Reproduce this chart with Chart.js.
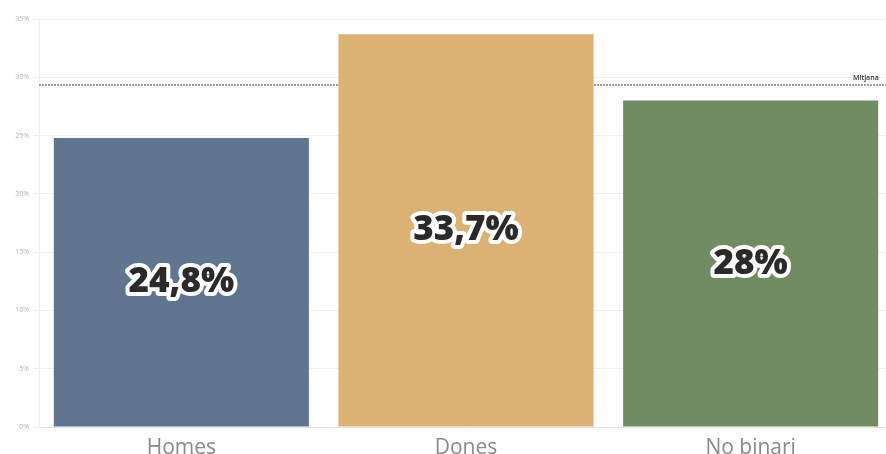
<!DOCTYPE html>
<html><head><meta charset="utf-8">
<script src="https://cdn.jsdelivr.net/npm/chart.js@4"></script>
<style>html,body{margin:0;padding:0;background:#fff;overflow:hidden;}#wrap{width:886px;height:454px;overflow:hidden;}</style>
</head><body><div id="wrap"><canvas id="c" width="893" height="454"></canvas></div>
<script>
const categories = ["Homes", "Dones", "No binari"];
const values = [24.8, 33.7, 28.0];
const valueLabels = ["24,8%", "33,7%", "28%"];
const barColors = ["#5f7590", "#dbb274", "#718c62"];
const meanValue = 29.3;
const meanLabel = "Mitjana";
const yTicks = [0, 5, 10, 15, 20, 25, 30, 35];

const overlay = {
  id: 'overlay',
  beforeDatasetsDraw(chart) {
    const ctx = chart.ctx;
    const y = chart.scales.y;
    const area = chart.chartArea;
    const my = y.getPixelForValue(meanValue);
    ctx.save();
    ctx.strokeStyle = '#808080';
    ctx.lineWidth = 1.5;
    ctx.setLineDash([2, 1]);
    ctx.beginPath();
    ctx.moveTo(area.left, Math.round(my));
    ctx.lineTo(886, Math.round(my));
    ctx.stroke();
    ctx.restore();
  },
  afterDatasetsDraw(chart) {
    const ctx = chart.ctx;
    const y = chart.scales.y;
    const meta = chart.getDatasetMeta(0);
    const my = y.getPixelForValue(meanValue);
    ctx.save();
    ctx.fillStyle = '#333';
    ctx.font = '600 7px "Open Sans"';
    ctx.textAlign = 'left';
    ctx.textBaseline = 'bottom';
    ctx.fillText(meanLabel, 853, my - 4);
    ctx.font = '800 35px "Open Sans"';
    ctx.textAlign = 'center';
    ctx.textBaseline = 'middle';
    ctx.lineJoin = 'round';
    meta.data.forEach((bar, i) => {
      const cy = (bar.y + bar.base) / 2;
      ctx.strokeStyle = '#ffffff';
      ctx.lineWidth = 8;
      ctx.strokeText(valueLabels[i], bar.x, cy);
      ctx.fillStyle = '#2a2a2a';
      ctx.fillText(valueLabels[i], bar.x, cy);
    });
    ctx.restore();
  }
};

new Chart(document.getElementById('c'), {
  type: 'bar',
  data: {
    labels: categories,
    datasets: [{ data: values, backgroundColor: barColors, borderWidth: 0,
      categoryPercentage: 0.896, barPercentage: 1.0 }]
  },
  options: {
    responsive: false,
    animation: false,
    layout: { padding: { top: 19, right: 0, left: 0, bottom: 0 } },
    plugins: { legend: { display: false }, tooltip: { enabled: false } },
    scales: {
      x: {
        grid: { display: false },
        border: { display: true, color: '#e6e6e6' },
        ticks: { color: '#8a8a8a', font: { family: 'Open Sans', size: 21 }, padding: 0 },
        afterFit(s) { s.height = 27; }
      },
      y: {
        min: 0, max: 35,
        afterBuildTicks(s) { s.ticks = yTicks.map(v => ({ value: v })); },
        grid: { color: '#f1f1f1', drawTicks: true, tickLength: 6, tickColor: '#f1f1f1' },
        border: { display: true, color: '#f0f0f0' },
        ticks: { color: '#b5b5b5', font: { family: 'Open Sans', size: 7 }, padding: 4,
          callback: v => v + '%' },
        afterFit(s) { s.width = 39; }
      }
    }
  },
  plugins: [overlay]
});
</script></body></html>
